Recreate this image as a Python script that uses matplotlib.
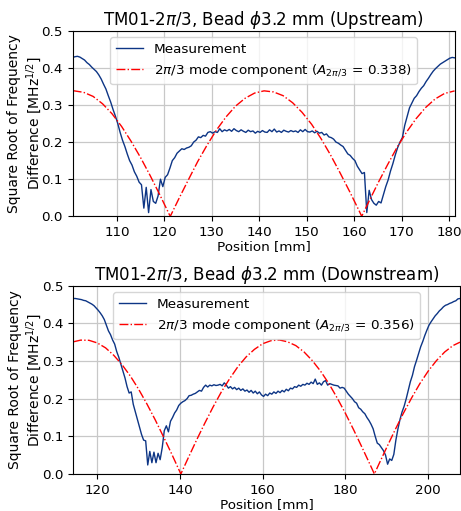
import numpy as np
import matplotlib.pyplot as plt

# --- Upstream (top panel) ---
up_meas = [0.428, 0.430, 0.431, 0.429, 0.425, 0.421, 0.414, 0.409, 0.402, 0.396,
           0.390, 0.381, 0.370, 0.356, 0.343, 0.325, 0.308, 0.288, 0.270, 0.250,
           0.226, 0.205, 0.188, 0.168, 0.150, 0.138, 0.120, 0.108, 0.092, 0.085,
           0.022, 0.078, 0.010, 0.072, 0.040, 0.035, 0.055, 0.100, 0.080, 0.105,
           0.112, 0.130, 0.150, 0.158, 0.170, 0.176, 0.182, 0.180, 0.184, 0.186,
           0.190, 0.200, 0.205, 0.214, 0.212, 0.218, 0.216, 0.226, 0.228, 0.224,
           0.228, 0.226, 0.236, 0.228, 0.233, 0.230, 0.234, 0.229, 0.236, 0.231,
           0.228, 0.233, 0.229, 0.226, 0.232, 0.228, 0.230, 0.224, 0.229, 0.226,
           0.231, 0.227, 0.226, 0.233, 0.228, 0.235, 0.227, 0.230, 0.226, 0.232,
           0.229, 0.227, 0.231, 0.228, 0.230, 0.226, 0.233, 0.228, 0.234, 0.228,
           0.227, 0.230, 0.225, 0.229, 0.224, 0.226, 0.219, 0.222, 0.214, 0.212,
           0.208, 0.200, 0.197, 0.192, 0.188, 0.178, 0.168, 0.164, 0.156, 0.150,
           0.135, 0.125, 0.115, 0.118, 0.010, 0.070, 0.045, 0.035, 0.030, 0.040,
           0.036, 0.058, 0.080, 0.098, 0.122, 0.142, 0.165, 0.185, 0.200, 0.212,
           0.245, 0.268, 0.292, 0.305, 0.318, 0.325, 0.336, 0.345, 0.352, 0.363,
           0.372, 0.382, 0.391, 0.398, 0.404, 0.410, 0.414, 0.418, 0.422, 0.426,
           0.428, 0.427]
up_start, up_end = 100.7, 181.1

up_fit_x = [100.7, 101, 103, 105, 107, 109, 111, 113, 115, 117, 119, 121, 121.25,
            123, 125, 127, 129, 131, 133, 135, 137, 139, 141, 143, 145, 147, 149,
            151, 153, 155, 157, 159, 161, 161.55, 163, 165, 167, 169, 171, 173,
            175, 177, 179, 181, 181.1]
up_fit_y = [0.338, 0.338, 0.334, 0.323, 0.303, 0.276, 0.242, 0.202, 0.158, 0.110,
            0.059, 0.006, 0.0, 0.046, 0.097, 0.147, 0.192, 0.233, 0.268, 0.297,
            0.318, 0.332, 0.338, 0.335, 0.325, 0.306, 0.280, 0.248, 0.209, 0.165,
            0.117, 0.067, 0.015, 0.0, 0.038, 0.090, 0.139, 0.186, 0.227, 0.263,
            0.293, 0.316, 0.331, 0.3375, 0.338]

# --- Downstream (bottom panel) ---
dn_meas = [0.466, 0.466, 0.465, 0.464, 0.463, 0.461, 0.460, 0.457, 0.454, 0.451,
           0.447, 0.441, 0.435, 0.428, 0.420, 0.410, 0.395, 0.380, 0.370, 0.356,
           0.345, 0.325, 0.310, 0.292, 0.275, 0.255, 0.232, 0.215, 0.218, 0.185,
           0.165, 0.145, 0.125, 0.105, 0.090, 0.088, 0.024, 0.060, 0.030, 0.058,
           0.030, 0.055, 0.038, 0.070, 0.115, 0.128, 0.112, 0.140, 0.150, 0.162,
           0.170, 0.182, 0.188, 0.192, 0.195, 0.200, 0.208, 0.209, 0.212, 0.214,
           0.218, 0.222, 0.220, 0.230, 0.236, 0.231, 0.236, 0.234, 0.237, 0.235,
           0.236, 0.238, 0.234, 0.242, 0.236, 0.228, 0.232, 0.226, 0.230, 0.224,
           0.228, 0.222, 0.226, 0.220, 0.223, 0.217, 0.222, 0.215, 0.220, 0.213,
           0.218, 0.210, 0.206, 0.212, 0.208, 0.215, 0.212, 0.218, 0.214, 0.220,
           0.216, 0.222, 0.218, 0.225, 0.221, 0.228, 0.226, 0.232, 0.230, 0.236,
           0.233, 0.238, 0.236, 0.241, 0.238, 0.244, 0.240, 0.252, 0.238, 0.242,
           0.236, 0.245, 0.248, 0.236, 0.240, 0.238, 0.236, 0.235, 0.234, 0.228,
           0.230, 0.228, 0.220, 0.212, 0.206, 0.200, 0.192, 0.188, 0.176, 0.172,
           0.165, 0.160, 0.150, 0.142, 0.132, 0.120, 0.100, 0.082, 0.078, 0.070,
           0.062, 0.050, 0.026, 0.040, 0.036, 0.052, 0.090, 0.120, 0.145, 0.165,
           0.180, 0.200, 0.222, 0.245, 0.262, 0.285, 0.302, 0.320, 0.338, 0.352,
           0.368, 0.382, 0.395, 0.404, 0.412, 0.420, 0.426, 0.433, 0.438, 0.444,
           0.448, 0.450, 0.453, 0.455, 0.458, 0.460, 0.465, 0.466]
dn_start, dn_end = 114.2, 207.7

dn_fit_x = [114.2, 116, 118, 120, 122, 124, 126, 128, 130, 132, 134, 136, 138,
            140, 140.2, 142, 144, 146, 148, 150, 152, 154, 156, 158, 160, 162,
            164, 166, 168, 170, 172, 174, 176, 178, 180, 182, 184, 186, 187.0,
            188, 190, 192, 194, 196, 198, 200, 202, 204, 206, 207.7]
dn_fit_y = [0.351, 0.3555, 0.355, 0.348, 0.335, 0.315, 0.290, 0.260, 0.225, 0.186,
            0.144, 0.099, 0.053, 0.005, 0.0, 0.043, 0.090, 0.135, 0.178, 0.218,
            0.253, 0.285, 0.311, 0.331, 0.346, 0.354, 0.356, 0.351, 0.341, 0.324,
            0.301, 0.273, 0.240, 0.202, 0.161, 0.117, 0.071, 0.024, 0.0, 0.024,
            0.071, 0.117, 0.161, 0.202, 0.240, 0.273, 0.301, 0.324, 0.341, 0.350]

panels = [
    ("Upstream", up_meas, up_start, up_end, up_fit_x, up_fit_y, "0.338",
     [0.1577, 0.5767, 0.8283, 0.3632], [110, 120, 130, 140, 150, 160, 170, 180]),
    ("Downstream", dn_meas, dn_start, dn_end, dn_fit_x, dn_fit_y, "0.356",
     [0.1590, 0.0724, 0.8388, 0.3685], [120, 140, 160, 180, 200]),
]

fig = plt.figure(figsize=(4.61, 5.11), dpi=100)

for name, meas, x0, x1, fx, fy, amp, rect, ticks in panels:
    ax = fig.add_axes(rect)
    pos = np.linspace(x0, x1, len(meas))
    ax.plot(pos, meas, color='#0d3585', lw=1.0, label='Measurement')
    ax.plot(fx, fy, color='red', lw=1.0, ls='-.',
            label=r'$2\pi/3$ mode component ($A_{2\pi/3}$ = ' + amp + ')')
    ax.set_xlim(x0, x1)
    ax.set_ylim(0, 0.5)
    ax.set_xticks(ticks)
    ax.set_yticks([0.0, 0.1, 0.2, 0.3, 0.4, 0.5])
    ax.tick_params(labelsize=9.7)
    ax.grid(True, color='#c8c8c8', lw=0.9)
    ax.set_title(r'TM01-$2\pi/3$, Bead $\phi$3.2 mm (' + name + ')', fontsize=12, pad=4)
    ax.set_xlabel('Position [mm]', fontsize=9.7, labelpad=1)
    ax.set_ylabel('Square Root of Frequency\nDifference [MHz$^{1/2}$]', fontsize=10,
                  labelpad=-1.5, linespacing=1.15)
    ax.legend(loc='upper center', fontsize=9.7)

fig.savefig('out.png', dpi=100)
